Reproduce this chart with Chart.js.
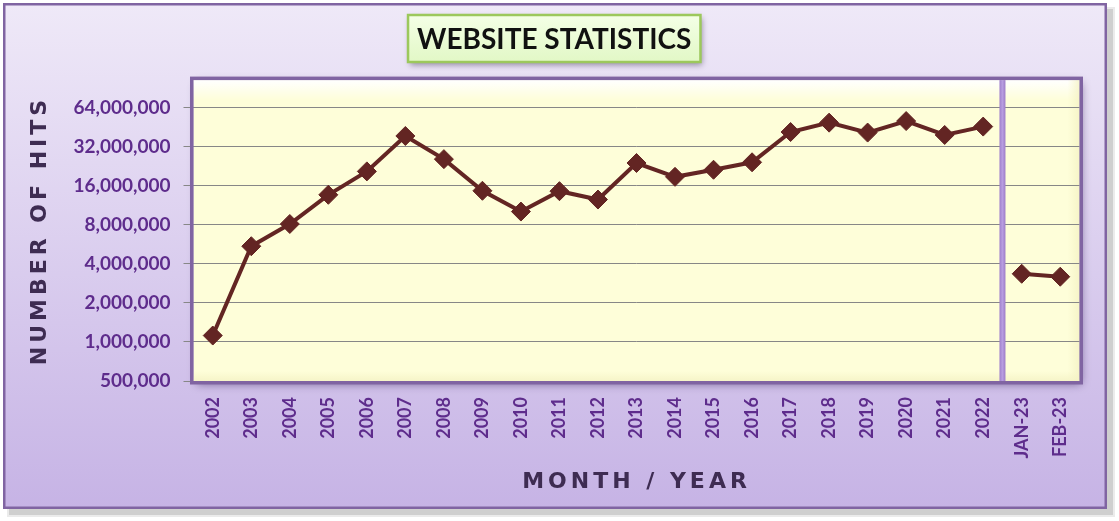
<!DOCTYPE html>
<html>
<head>
<meta charset="utf-8">
<script src="https://cdn.jsdelivr.net/npm/chart.js@4/dist/chart.umd.min.js"></script>
<style>
  html, body { margin: 0; padding: 0; background: #ffffff; }
  #wrap { width: 1119px; height: 521px; }
</style>
</head>
<body>
<div id="wrap"><canvas id="chart" width="1119" height="521"></canvas></div>
<script>
// Website hits per year, then per month for 2023 (log scale, base 2)
const categories = ['2002', '2003', '2004', '2005', '2006', '2007', '2008', '2009', '2010', '2011',
  '2012', '2013', '2014', '2015', '2016', '2017', '2018', '2019', '2020', '2021', '2022',
  'JAN-23', 'FEB-23'];
const yearHits = [1120000, 5460000, 8100000, 13600000, 20600000, 38600000, 25600000, 14600000,
  10100000, 14500000, 12500000, 23900000, 18700000, 21200000, 24200000, 41400000, 48900000,
  41000000, 50300000, 39300000, 45600000];
const monthHits = [3350000, 3180000];
const yTicks = [500000, 1000000, 2000000, 4000000, 8000000, 16000000, 32000000, 64000000];

const PURPLE = '#8064a2';
const LABEL = '#5e2c8c';
const MAROON = '#632523';

// pad the two series so they share one category axis
const yearSeries = yearHits.concat(monthHits.map(() => null));
const monthSeries = yearHits.map(() => null).concat(monthHits);

// backgrounds, title box, plot frame and the year/month divider
const decor = {
  id: 'decor',
  beforeDraw(chart) {
    const ctx = chart.ctx;
    const a = chart.chartArea;

    // letter spaced axis titles
    ['x', 'y'].forEach(id => {
      const s = chart.scales[id];
      if (s && !s._spaced) {
        const orig = s.drawTitle;
        s.drawTitle = function () {
          this.ctx.save();
          this.ctx.letterSpacing = '4px';
          orig.call(this);
          this.ctx.restore();
        };
        s._spaced = true;
      }
    });

    ctx.save();
    // outer frame
    ctx.fillStyle = 'rgba(0,0,0,0.12)';
    ctx.fillRect(9, 9, 1104, 506);
    ctx.fillStyle = 'rgba(0,0,0,0.08)';
    ctx.fillRect(7, 7, 1108, 510);
    const bg = ctx.createLinearGradient(0, 3, 0, 509);
    bg.addColorStop(0, '#efe9f8');
    bg.addColorStop(1, '#c6b3e5');
    ctx.fillStyle = bg;
    ctx.fillRect(3, 3, 1104, 506);
    ctx.strokeStyle = PURPLE;
    ctx.lineWidth = 2.5;
    ctx.strokeRect(4.25, 4.25, 1101.5, 503.5);

    // title box
    const tb = chart.titleBlock;
    if (tb) {
      const tf = chart.options.plugins.title.font;
      const cx = (tb.left + tb.right) / 2;
      ctx.font = tf.weight + ' ' + tf.size + 'px ' + tf.family;
      const w = ctx.measureText(chart.options.plugins.title.text).width;
      const bx = cx - w / 2 - 9, by = 15, bw = w + 18, bh = 47;
      ctx.shadowColor = 'rgba(40,30,60,0.45)';
      ctx.shadowBlur = 6;
      ctx.shadowOffsetX = 2;
      ctx.shadowOffsetY = 3;
      const gb = ctx.createLinearGradient(0, by, 0, by + bh);
      gb.addColorStop(0, '#f4ffe6');
      gb.addColorStop(1, '#e2f8c6');
      ctx.fillStyle = gb;
      ctx.fillRect(bx, by, bw, bh);
      ctx.shadowColor = 'transparent';
      ctx.strokeStyle = '#9cc85c';
      ctx.lineWidth = 2.5;
      ctx.strokeRect(bx, by, bw, bh);
    }

    // plot area with shadow and bevel
    ctx.shadowColor = 'rgba(50,30,80,0.55)';
    ctx.shadowBlur = 9;
    ctx.shadowOffsetX = 2;
    ctx.shadowOffsetY = 3;
    ctx.fillStyle = '#fefed9';
    ctx.fillRect(a.left, a.top, a.right - a.left, a.bottom - a.top);
    ctx.shadowColor = 'transparent';
    const top = ctx.createLinearGradient(0, a.top, 0, a.top + 20);
    top.addColorStop(0, 'rgba(255,255,255,1)');
    top.addColorStop(1, 'rgba(255,255,255,0)');
    ctx.fillStyle = top;
    ctx.fillRect(a.left, a.top, a.right - a.left, 20);
    const rt = ctx.createLinearGradient(a.right - 12, 0, a.right, 0);
    rt.addColorStop(0, 'rgba(244,242,196,0)');
    rt.addColorStop(1, 'rgba(244,242,196,0.8)');
    ctx.fillStyle = rt;
    ctx.fillRect(a.right - 12, a.top, 12, a.bottom - a.top);
    const bt = ctx.createLinearGradient(0, a.bottom - 10, 0, a.bottom);
    bt.addColorStop(0, 'rgba(244,242,196,0)');
    bt.addColorStop(1, 'rgba(244,242,196,0.8)');
    ctx.fillStyle = bt;
    ctx.fillRect(a.left, a.bottom - 10, a.right - a.left, 10);
    ctx.restore();
  },
  beforeDatasetsDraw(chart) {
    const ctx = chart.ctx;
    const a = chart.chartArea;
    const x = chart.scales.x;
    ctx.save();
    // divider between yearly and monthly figures
    const mid = (x.getPixelForValue(yearHits.length - 1) + x.getPixelForValue(yearHits.length)) / 2;
    const g = ctx.createLinearGradient(mid - 3, 0, mid + 3, 0);
    g.addColorStop(0, '#a07fcb');
    g.addColorStop(0.5, '#b89de0');
    g.addColorStop(1, '#9e7cc8');
    ctx.fillStyle = g;
    ctx.fillRect(mid - 3, a.top, 6, a.bottom - a.top);
    // plot frame
    ctx.strokeStyle = PURPLE;
    ctx.lineWidth = 3.5;
    ctx.strokeRect(a.left - 1.75, a.top - 1.75, a.right - a.left + 3.5, a.bottom - a.top + 3.5);
    ctx.restore();
  }
};

const dsStyle = {
  borderColor: MAROON,
  backgroundColor: MAROON,
  borderWidth: 4,
  pointStyle: 'rectRot',
  pointRadius: 9.5,
  pointHoverRadius: 9.5,
  pointBackgroundColor: MAROON,
  pointBorderColor: MAROON,
  pointBorderWidth: 1,
  tension: 0,
  spanGaps: false
};

new Chart(document.getElementById('chart'), {
  type: 'line',
  data: {
    labels: categories,
    datasets: [
      Object.assign({ label: 'Yearly hits', data: yearSeries }, dsStyle),
      Object.assign({ label: 'Monthly hits', data: monthSeries }, dsStyle)
    ]
  },
  options: {
    responsive: false,
    animation: false,
    events: [],
    layout: { padding: { left: 29, right: 39.5, top: 0, bottom: 0 } },
    plugins: {
      legend: { display: false },
      tooltip: { enabled: false },
      title: {
        display: true,
        text: 'WEBSITE STATISTICS',
        color: '#111111',
        font: { family: 'Lato', size: 28, weight: 'bold', lineHeight: 1.2 },
        padding: { top: 23.5, bottom: 23 }
      }
    },
    scales: {
      x: {
        type: 'category',
        offset: true,
        afterFit(s) { s.height = 140; },
        grid: { display: false, drawTicks: false },
        border: { display: false },
        ticks: {
          color: LABEL,
          font: { family: 'Lato', size: 18, weight: 'bold' },
          minRotation: 90,
          maxRotation: 90,
          autoSkip: false,
          padding: 16
        },
        title: {
          display: true,
          text: 'MONTH / YEAR',
          color: '#3e2c52',
          font: { family: 'DejaVu Sans', size: 22, weight: 'bold', lineHeight: 1.2 },
          padding: { top: 0, bottom: 26 }
        }
      },
      y: {
        type: 'logarithmic',
        min: 500000,
        max: 104000000,
        afterFit(s) { s.width = 164.5; },
        afterBuildTicks(s) { s.ticks = yTicks.map(v => ({ value: v })); },
        grid: { color: '#878787', lineWidth: 1, drawTicks: true, tickLength: 10, tickColor: '#878787' },
        border: { display: false },
        ticks: {
          color: LABEL,
          font: { family: 'Lato', size: 19, weight: 'bold' },
          padding: 13,
          callback: v => Number(v).toLocaleString('en-US')
        },
        title: {
          display: true,
          text: 'NUMBER OF HITS',
          color: '#3e2c52',
          font: { family: 'DejaVu Sans', size: 22, weight: 'bold', lineHeight: 1 },
          padding: { top: 0, bottom: 0 }
        }
      }
    }
  },
  plugins: [decor]
});
</script>
</body>
</html>
